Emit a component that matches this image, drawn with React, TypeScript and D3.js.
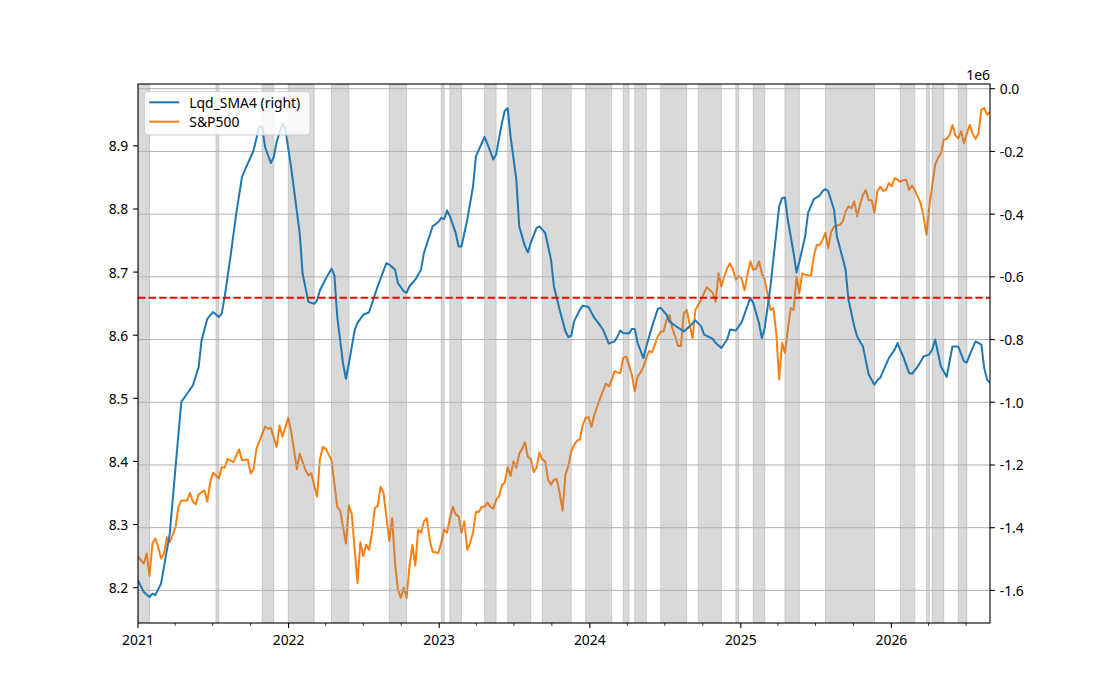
import * as d3 from "d3";

// weekly series, week index counted from the first Friday of 2021
const START = new Date(2021, 0, 1);
const LAST_WEEK = 295;

// Lqd_SMA4, secondary axis, in units of 1e6
const lqdWeeks = [0,2,4,5,6,8,9,11,13,15,17,19,21,22,24,26,28,29,30,32,34,36,37,38,40,42,43,44,46,47,48,50,51,53,56,57,59,61,62,63,65,67,68,69,71,72,73,75,76,78,80,83,86,87,89,90,92,93,94,96,98,99,102,104,105,106,107,108,110,111,112,114,116,117,120,122,123,124,126,127,128,129,131,132,134,135,136,138,139,141,143,144,146,148,149,150,151,153,154,156,158,159,161,162,163,165,166,167,168,170,171,172,173,175,176,178,180,181,183,184,186,189,191,193,195,196,199,200,202,204,205,207,209,212,213,215,216,217,219,221,222,223,224,225,227,228,229,231,232,234,236,237,238,239,241,242,245,246,248,249,251,253,255,256,257,259,260,262,263,264,265,267,268,270,272,274,275,276,278,280,281,282,284,286,287,288,290,292,293,294,295];
const lqdValues = [-1.568,-1.605,-1.621,-1.610,-1.615,-1.578,-1.525,-1.419,-1.206,-0.999,-0.973,-0.946,-0.888,-0.803,-0.734,-0.712,-0.728,-0.717,-0.664,-0.537,-0.399,-0.282,-0.260,-0.239,-0.197,-0.120,-0.122,-0.186,-0.237,-0.218,-0.170,-0.111,-0.127,-0.250,-0.462,-0.590,-0.680,-0.686,-0.675,-0.643,-0.606,-0.574,-0.595,-0.728,-0.877,-0.925,-0.877,-0.771,-0.747,-0.721,-0.713,-0.630,-0.556,-0.561,-0.577,-0.620,-0.646,-0.651,-0.630,-0.609,-0.577,-0.524,-0.439,-0.425,-0.412,-0.416,-0.388,-0.407,-0.460,-0.503,-0.503,-0.418,-0.312,-0.216,-0.154,-0.200,-0.226,-0.210,-0.109,-0.070,-0.062,-0.152,-0.290,-0.439,-0.503,-0.522,-0.492,-0.444,-0.439,-0.460,-0.545,-0.630,-0.705,-0.774,-0.792,-0.788,-0.742,-0.705,-0.692,-0.696,-0.731,-0.742,-0.768,-0.790,-0.813,-0.806,-0.790,-0.771,-0.779,-0.781,-0.766,-0.766,-0.811,-0.859,-0.822,-0.758,-0.702,-0.699,-0.721,-0.742,-0.756,-0.774,-0.758,-0.739,-0.758,-0.784,-0.798,-0.811,-0.827,-0.800,-0.768,-0.771,-0.745,-0.667,-0.683,-0.747,-0.795,-0.763,-0.630,-0.460,-0.375,-0.349,-0.347,-0.418,-0.524,-0.586,-0.551,-0.471,-0.396,-0.352,-0.341,-0.327,-0.320,-0.327,-0.386,-0.471,-0.577,-0.673,-0.758,-0.790,-0.822,-0.912,-0.944,-0.930,-0.922,-0.880,-0.859,-0.832,-0.811,-0.835,-0.855,-0.907,-0.909,-0.886,-0.854,-0.848,-0.832,-0.800,-0.886,-0.919,-0.870,-0.822,-0.822,-0.870,-0.873,-0.848,-0.806,-0.816,-0.891,-0.928,-0.938];

// S&P500, primary axis
const spxWeeks = [0,2,3,4,5,6,7,8,9,10,11,13,14,15,17,18,19,20,21,23,24,25,26,28,29,30,31,33,35,36,38,39,40,41,44,45,46,48,49,50,52,53,55,56,58,59,60,62,63,64,65,67,69,70,72,73,74,76,77,78,79,80,81,82,83,84,85,86,87,88,89,90,91,92,93,94,95,96,97,98,99,100,101,102,104,105,106,107,108,109,110,111,112,113,114,115,116,117,118,119,120,121,122,123,124,125,126,127,128,129,130,131,132,133,134,135,136,137,138,139,140,141,142,143,144,145,146,147,148,149,150,151,152,153,154,155,156,157,158,159,160,162,163,164,165,166,167,168,169,170,171,172,173,174,175,176,177,178,180,181,182,183,184,185,186,187,188,189,190,192,193,195,196,197,199,200,201,202,203,204,205,206,207,208,209,210,211,212,213,214,215,216,217,219,220,221,222,223,224,225,226,227,228,229,230,231,233,234,235,236,237,238,239,240,241,243,244,245,246,247,248,249,250,251,252,253,254,255,256,257,258,259,260,261,262,263,264,265,266,267,268,269,271,272,273,274,276,277,278,279,280,281,282,283,284,285,286,287,288,289,290,291,292,293,294,295];
const spxValues = [8.249,8.238,8.254,8.219,8.270,8.278,8.264,8.246,8.254,8.280,8.272,8.296,8.328,8.338,8.338,8.350,8.336,8.332,8.348,8.354,8.336,8.367,8.382,8.373,8.391,8.390,8.404,8.399,8.419,8.402,8.403,8.381,8.387,8.420,8.455,8.452,8.453,8.423,8.457,8.439,8.469,8.449,8.388,8.412,8.386,8.378,8.381,8.344,8.404,8.423,8.420,8.402,8.328,8.322,8.270,8.330,8.317,8.207,8.272,8.250,8.268,8.260,8.287,8.326,8.329,8.360,8.350,8.313,8.274,8.310,8.239,8.197,8.184,8.200,8.184,8.234,8.268,8.235,8.292,8.287,8.305,8.310,8.276,8.257,8.255,8.271,8.292,8.287,8.310,8.328,8.316,8.313,8.287,8.305,8.260,8.271,8.287,8.320,8.320,8.328,8.328,8.335,8.328,8.325,8.339,8.345,8.362,8.367,8.391,8.377,8.400,8.390,8.412,8.420,8.430,8.407,8.404,8.383,8.390,8.414,8.403,8.400,8.371,8.363,8.371,8.372,8.350,8.322,8.379,8.393,8.416,8.426,8.433,8.435,8.458,8.469,8.470,8.455,8.474,8.487,8.500,8.523,8.519,8.529,8.543,8.541,8.540,8.564,8.566,8.553,8.537,8.511,8.535,8.541,8.550,8.564,8.575,8.573,8.598,8.606,8.606,8.624,8.632,8.611,8.598,8.583,8.583,8.635,8.640,8.595,8.640,8.656,8.667,8.676,8.667,8.653,8.698,8.677,8.693,8.706,8.714,8.704,8.688,8.694,8.690,8.671,8.696,8.717,8.704,8.705,8.717,8.698,8.688,8.640,8.643,8.603,8.530,8.588,8.572,8.609,8.643,8.640,8.693,8.667,8.698,8.696,8.694,8.725,8.743,8.743,8.751,8.762,8.738,8.764,8.772,8.775,8.780,8.796,8.804,8.801,8.812,8.788,8.807,8.822,8.830,8.814,8.814,8.794,8.828,8.835,8.829,8.830,8.841,8.836,8.849,8.846,8.843,8.846,8.846,8.830,8.837,8.830,8.809,8.788,8.759,8.804,8.870,8.881,8.888,8.910,8.911,8.917,8.933,8.917,8.912,8.923,8.904,8.920,8.933,8.919,8.911,8.920,8.957,8.960,8.949,8.954];

// shaded periods, [start week, end week]
const shadeStart = [0,27,43,52,67,87,105,108,120,128,140,155,168,172,181,194,207,213,224,238,264,273,275,284];
const shadeEnd = [4,28,47,61,73,93,106,112,124,136,150,164,170,176,190,202,208,217,229,255,269,274,279,287];

const leftTicks = [8.2, 8.3, 8.4, 8.5, 8.6, 8.7, 8.8, 8.9];
const rightTicks = [0, -0.2, -0.4, -0.6, -0.8, -1.0, -1.2, -1.4, -1.6];
const threshold = -0.667; // 1e6
const legendLabels = ["Lqd_SMA4 (right)", "S&P500"];

const W = 1100;
const H = 700;
const L = 138;
const R = 990;
const T = 84;
const B = 623;
const FONT = "'Noto Sans', 'DejaVu Sans', sans-serif";
const FS = 13.9;
const BLUE = "#1f77b4";
const ORANGE = "#ff7f0e";

const weekDate = (w: number) => d3.timeDay.offset(START, w * 7);

export default function App() {
  const x = d3.scaleTime().domain([START, weekDate(LAST_WEEK)]).range([L, R]);
  const yL = d3.scaleLinear().domain([8.144, 8.998]).range([B, T]);
  const yR = d3.scaleLinear().domain([-1.704, 0.015]).range([B, T]);

  const spx = spxWeeks.map((w, i) => ({ d: weekDate(w), v: spxValues[i] }));
  const lqd = lqdWeeks.map((w, i) => ({ d: weekDate(w), v: lqdValues[i] }));

  const spxLine = d3
    .line<{ d: Date; v: number }>()
    .x((p) => x(p.d))
    .y((p) => yL(p.v));
  const lqdLine = d3
    .line<{ d: Date; v: number }>()
    .x((p) => x(p.d))
    .y((p) => yR(p.v));

  const years = d3.timeYear.range(new Date(2021, 0, 1), new Date(2027, 0, 1));
  const quarters = d3.timeMonth
    .every(3)!
    .range(new Date(2021, 0, 1), weekDate(LAST_WEEK))
    .filter((d) => d.getMonth() !== 0);

  return (
    <svg
      width={W}
      height={H}
      style={{ position: "fixed", left: 0, top: 0, background: "#fff" }}
      fontFamily={FONT}
      fontSize={FS}
    >
      <defs>
        <clipPath id="plot">
          <rect x={L} y={T} width={R - L} height={B - T} />
        </clipPath>
      </defs>

      <g clipPath="url(#plot)">
        <path d={spxLine(spx) ?? ""} fill="none" stroke={ORANGE} strokeWidth={2} strokeLinejoin="round" />
        {shadeStart.map((s, i) => (
          <rect
            key={i}
            x={x(weekDate(s))}
            y={T}
            width={x(weekDate(shadeEnd[i])) - x(weekDate(s))}
            height={B - T}
            fill="#808080"
            fillOpacity={0.3}
            stroke="#808080"
            strokeOpacity={0.3}
            strokeWidth={1}
          />
        ))}
        {rightTicks.map((t) => (
          <line key={t} x1={L} x2={R} y1={yR(t)} y2={yR(t)} stroke="#b0b0b0" strokeWidth={1} />
        ))}
        <path d={lqdLine(lqd) ?? ""} fill="none" stroke={BLUE} strokeWidth={2} strokeLinejoin="round" />
        <line
          x1={L}
          x2={R}
          y1={yR(threshold)}
          y2={yR(threshold)}
          stroke="#ff0000"
          strokeWidth={2}
          strokeDasharray="7.4 3.2"
        />
      </g>

      {/* spines */}
      <rect x={L} y={T} width={R - L} height={B - T} fill="none" stroke="#000" strokeWidth={1.1} />

      {/* left axis */}
      {leftTicks.map((t) => (
        <g key={t}>
          <line x1={L - 4.9} x2={L} y1={yL(t)} y2={yL(t)} stroke="#000" strokeWidth={1.1} />
          <text x={L - 9.7} y={yL(t)} textAnchor="end" dominantBaseline="central" fill="#000">
            {t.toFixed(1)}
          </text>
        </g>
      ))}

      {/* right axis */}
      {rightTicks.map((t) => (
        <g key={t}>
          <line x1={R} x2={R + 4.9} y1={yR(t)} y2={yR(t)} stroke="#000" strokeWidth={1.1} />
          <text x={R + 9.7} y={yR(t)} dominantBaseline="central" fill="#000">
            {t === 0 ? "0.0" : t.toFixed(1)}
          </text>
        </g>
      ))}
      <text x={R} y={80} textAnchor="end" fill="#000">
        1e6
      </text>

      {/* x axis */}
      {years.map((d) => (
        <g key={d.getFullYear()}>
          <line x1={x(d)} x2={x(d)} y1={B} y2={B + 4.9} stroke="#000" strokeWidth={1.1} />
          <text x={x(d)} y={B + 16} textAnchor="middle" dominantBaseline="central" fill="#000">
            {d.getFullYear()}
          </text>
        </g>
      ))}
      {quarters.map((d) => (
        <line key={+d} x1={x(d)} x2={x(d)} y1={B} y2={B + 2.8} stroke="#000" strokeWidth={0.8} />
      ))}

      {/* legend */}
      <g>
        <rect x={144.3} y={91.7} width={165.7} height={43.3} rx={3} fill="#fff" fillOpacity={0.8} stroke="#cccccc" />
        {legendLabels.map((lab, i) => (
          <g key={lab}>
            <line
              x1={149.3}
              x2={179.3}
              y1={102.3 + i * 19.4}
              y2={102.3 + i * 19.4}
              stroke={i === 0 ? BLUE : ORANGE}
              strokeWidth={2}
            />
            <text x={189.3} y={102.3 + i * 19.4} dominantBaseline="central" fill="#000">
              {lab}
            </text>
          </g>
        ))}
      </g>
    </svg>
  );
}
